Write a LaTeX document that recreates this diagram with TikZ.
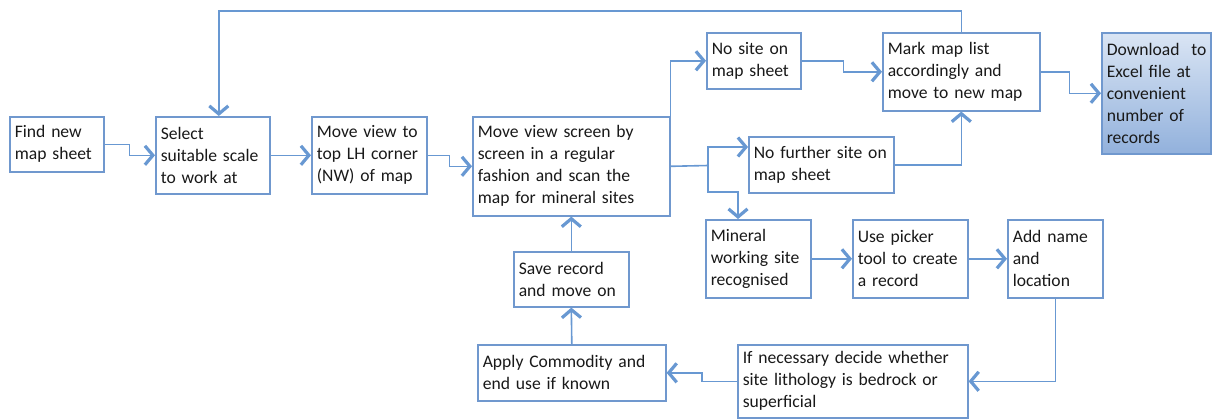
\documentclass[tikz,border=0pt]{standalone}
\usepackage{fontspec}
\setmainfont{Carlito}
\usetikzlibrary{arrows.meta,calc}
\hyphenpenalty=10000
\exhyphenpenalty=10000
\definecolor{linec}{RGB}{104,152,210}
\definecolor{boxc}{RGB}{112,152,206}
\definecolor{txtc}{RGB}{25,25,25}
\definecolor{gtop}{RGB}{218,229,244}
\definecolor{gbot}{RGB}{146,177,220}
\tikzset{
  fbox/.style={draw=boxc, line width=1.6pt, fill=white, inner xsep=5pt, inner ysep=2pt,
    align=left, font=\fontsize{17.6}{22}\selectfont, text=txtc, anchor=north west},
  conn/.style={draw=linec, line width=1.6pt, -{Straight Barb[length=8pt,width=19pt,line width=3.2pt]}},
  plain/.style={draw=linec, line width=1.6pt},
}
% box helper: position by top-left corner, size in px
\newcommand{\mybox}[7][]{%
  \node[fbox,#1, minimum width=#4pt, minimum height=#5pt, text width=#6pt] (#2) at (#3) {#7};}
\begin{document}
\begin{tikzpicture}[x=1pt,y=-1pt]
\useasboundingbox (0,0) rectangle (1212,418);
\mybox{find}{9,116}{94}{55}{84}{Find new\\map sheet}
\mybox{select}{155,116}{114}{77}{104}{Select\\suitable scale\\to work at}
\mybox{moveview}{311,116}{115}{77}{105}{Move view to\\top LH corner\\(NW) of map}
\mybox{msv}{472,116}{197}{99}{187}{Move view screen by\\screen in a regular\\fashion and scan the\\map for mineral sites}
\mybox{nosite}{706,32}{94}{56}{84}{No site on\\map sheet}
\mybox{nofurther}{748,136}{145}{56}{135}{No further site on\\map sheet}
\mybox{mark}{882,32}{157}{78}{147}{Mark map list\\accordingly and\\move to new map}
\mybox[top color=gtop,bottom color=gbot]{download}{1101,32}{109}{121}{99}{\mbox{Download\ \ to}\\Excel file at\\convenient\\number of\\records}
\mybox{mineral}{705,219}{105}{78}{95}{Mineral\\working site\\recognised}
\mybox{picker}{852,219}{115}{78}{105}{Use picker\\tool to create\\a record}
\mybox{addname}{1007,219}{95}{78}{85}{Add name\\and\\location}
\mybox{ifnec}{737,344}{230}{73}{220}{If necessary decide whether\\site lithology is bedrock or\\superficial}
\mybox{apply}{477,344}{188}{56}{178}{Apply Commodity and\\end use if known}
\mybox{save}{513,251}{115}{55}{105}{Save record\\and move on}
% connectors
\draw[conn] (find.east) -- ++(25,0) |- (select.west);
\draw[conn] (select.east) -- (moveview.west);
\draw[conn] (moveview.east) -- ++(22,0) |- (msv.west);
\draw[conn] (msv.north east) |- (nosite.west);
\coordinate (br) at (708,165.5);
\coordinate (brlow) at (708,192);
\draw[plain] (msv.east) -- (br);
\draw[conn] (br) |- ([yshift=-11pt]nofurther.north west);
\draw[conn] (br) -- (brlow) -| ([xshift=33pt]mineral.north west);
\draw[conn] (nosite.east) -- ++(42,0) |- (mark.west);
\draw[conn] (nofurther.east) -| (mark.south);
\draw[conn] (mark.east) -- ++(29,0) |- (download.west);
\draw[conn] (mark.north) -- ++(0,-21) -| ([xshift=6pt]select.north);
\draw[conn] (mineral.east) -- (picker.west);
\draw[conn] (picker.east) -- (addname.west);
\draw[conn] (addname.south) |- (ifnec.east);
\draw[conn] (ifnec.west) -- ++(-35,0) |- (apply.east);
\draw[conn] (apply.north) -- (save.south);
\draw[conn] (save.north) -- (msv.south);
\end{tikzpicture}
\end{document}
